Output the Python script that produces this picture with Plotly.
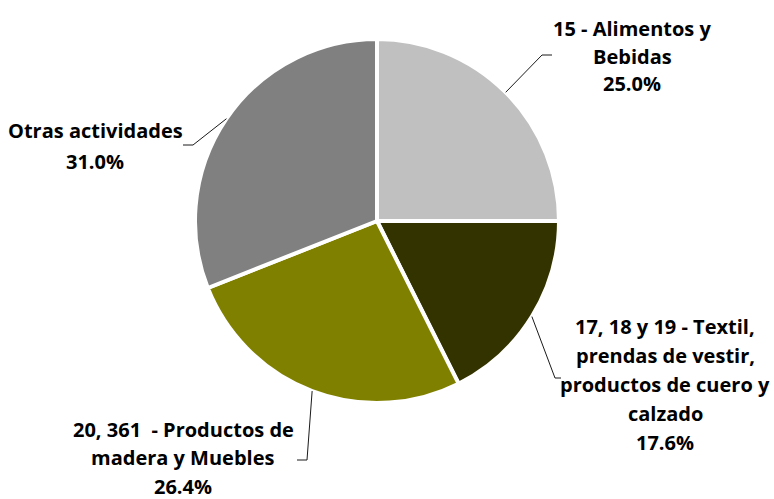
import math
import plotly.graph_objects as go

# Industry shares (%)
labels = [
    "15 - Alimentos y Bebidas",
    "17, 18 y 19 - Textil, prendas de vestir, productos de cuero y calzado",
    "20, 361  - Productos de madera y Muebles",
    "Otras actividades",
]
label_lines = [
    ["15 - Alimentos y", "Bebidas"],
    ["17, 18 y 19 - Textil,", "prendas de vestir,", "productos de cuero y", "calzado"],
    ["20, 361  - Productos de", "madera y Muebles"],
    ["Otras actividades"],
]
shares = [25.0, 17.6, 26.4, 31.0]
colors = ["#C0C0C0", "#333300", "#808000", "#808080"]

W, H = 774, 499
CX, CY, R = 377, 221, 182  # pie centre and radius in pixels

# label block placement (centre x, first-line y, line step) and leader elbow
label_pos = [(632, 28, 28), (665, 326, 29), (183, 429, 28.5), (95, 131, 30)]
elbows = [((542, 55), (552, 55)), ((555, 378), (561, 378)),
          ((307, 460), (297, 460)), ((193, 145), (183, 145))]


def px(x, y):
    return x / W, 1 - y / H


fig = go.Figure(go.Pie(
    labels=labels,
    values=shares,
    sort=False,
    direction="clockwise",
    rotation=0,
    marker=dict(colors=colors, line=dict(color="white", width=4)),
    textinfo="none",
    hoverinfo="label+percent",
    showlegend=False,
    domain=dict(x=[(CX - R) / W, (CX + R) / W], y=[1 - (CY + R) / H, 1 - (CY - R) / H]),
))

font = dict(family="Open Sans", size=20, color="#000000")
annotations = []
shapes = []
total = sum(shares)
cum = 0.0
for i, v in enumerate(shares):
    mid = (cum + v / 2) / total * 2 * math.pi
    cum += v
    sx, sy = CX + R * math.sin(mid), CY - R * math.cos(mid)
    (ex, ey), (hx, hy) = elbows[i]
    for a, b in (((sx, sy), (ex, ey)), ((ex, ey), (hx, hy))):
        x0, y0 = px(*a)
        x1, y1 = px(*b)
        shapes.append(dict(type="line", xref="paper", yref="paper",
                           x0=x0, y0=y0, x1=x1, y1=y1,
                           line=dict(color="#1a1a1a", width=1)))
    lx, ly, step = label_pos[i]
    lines = label_lines[i] + [f"{v:.1f}%"]
    for j, t in enumerate(lines):
        ax, ay = px(lx, ly + j * step)
        annotations.append(dict(text=f"<b>{t}</b>", x=ax, y=ay, xref="paper", yref="paper",
                                xanchor="center", yanchor="middle", showarrow=False, font=font))

fig.update_layout(
    width=W, height=H,
    margin=dict(l=0, r=0, t=0, b=0),
    paper_bgcolor="white", plot_bgcolor="white",
    annotations=annotations, shapes=shapes,
)
fig.write_html("out.html")
